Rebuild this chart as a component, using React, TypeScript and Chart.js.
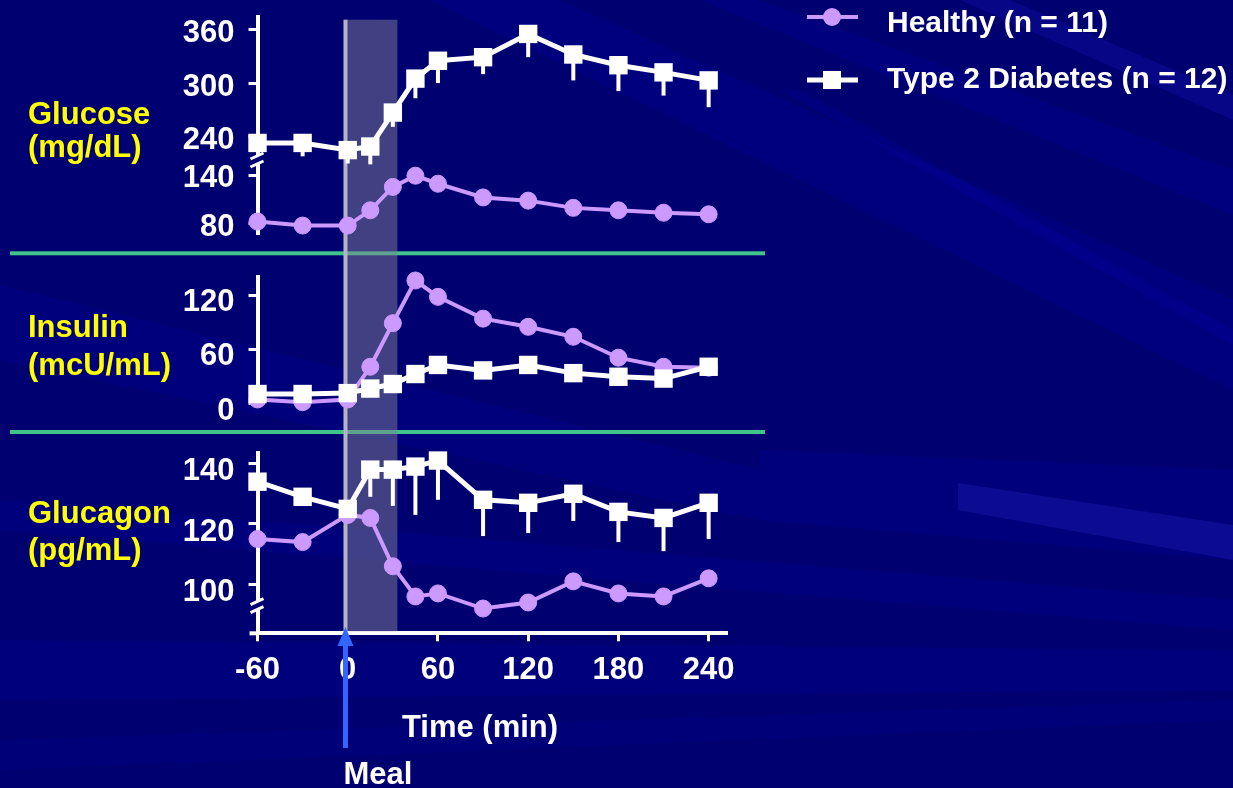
import React, { useEffect, useRef } from 'react';
import { Chart, registerables } from 'chart.js';

Chart.register(...registerables);

// ---------- data ----------
const timePoints = [-60, -30, 0, 15, 30, 45, 60, 90, 120, 150, 180, 210, 240];

const glucoseHealthy = [83, 78, 78, 97, 126, 140, 130, 113, 109, 100, 97, 94, 92];
const glucoseDiabetes = [233, 233, 225, 229, 267, 305, 325, 329, 355, 332, 320, 312, 303];
const glucoseDiabetesErr = [5, 15, 15, 20, 16, 22, 25, 19, 26, 29, 29, 26, 30];

const insulinHealthy = [5, 2, 5, 41, 89, 136, 118, 94, 85, 74, 51, 41, 40];
const insulinDiabetes = [11, 11, 12, 17, 22, 33, 43, 37, 43, 34, 30, 28, 41];

const glucagonHealthy = [115, 114, 123, 122, 106, 96, 97, 92, 94, 101, 97, 96, 102];
const glucagonDiabetes = [134, 129, 125, 138, 138, 139, 141, 128, 127, 130, 124, 122, 127];
const glucagonDiabetesErr = [0, 0, 0, 9, 12, 16, 13, 12, 10, 9, 10, 11, 12];

const xTicks = [-60, 0, 60, 120, 180, 240];
const glucoseHighTicks = [240, 300, 360];
const glucoseLowTicks = [80, 140];
const insulinTicks = [0, 60, 120];
const glucagonTicks = [100, 120, 140];

const seriesNames = ['Healthy (n = 11)', 'Type 2 Diabetes (n = 12)'];
const panelTitles = [
  ['Glucose', '(mg/dL)'],
  ['Insulin', '(mcU/mL)'],
  ['Glucagon', '(pg/mL)'],
];
const xTitle = 'Time (min)';
const mealLabel = 'Meal';
const mealTime = -1.5;
const mealShade = [-1, 33];
const glucagonBreakValue = 93;

// ---------- style ----------
const FONT = "'Liberation Sans', Arial, Helvetica, sans-serif";
const BG = '#000070';
const PURPLE = '#cc99ff';
const WHITE = '#ffffff';
const YELLOW = '#ffff00';
const GREEN = '#40c48a';

const streaks: { pts: number[][]; color: string }[] = [
  { pts: [[430, 0], [560, 0], [1233, 300], [1233, 390]], color: 'rgba(0,0,160,0.3)' },
  { pts: [[700, 0], [760, 0], [1233, 170], [1233, 215]], color: 'rgba(0,0,160,0.3)' },
  { pts: [[960, 0], [1010, 0], [1233, 95], [1233, 120]], color: 'rgba(20,20,190,0.3)' },
  { pts: [[780, 90], [800, 90], [1233, 330], [1233, 345]], color: 'rgba(0,0,160,0.3)' },
  { pts: [[0, 285], [0, 360], [760, 520], [760, 470]], color: 'rgba(0,0,160,0.25)' },
  { pts: [[760, 450], [1233, 470], [1233, 560], [760, 520]], color: 'rgba(0,0,160,0.25)' },
  { pts: [[958, 483], [1233, 525], [1233, 560], [958, 510]], color: 'rgba(40,40,200,0.3)' },
  { pts: [[0, 500], [1233, 600], [1233, 630], [0, 530]], color: 'rgba(0,0,160,0.25)' },
  { pts: [[0, 640], [1233, 650], [1233, 690], [0, 700]], color: 'rgba(0,0,160,0.25)' },
  { pts: [[0, 740], [1233, 700], [1233, 720], [0, 770]], color: 'rgba(0,0,160,0.2)' },
];

const toPts = (vals: number[]) => timePoints.map((t, i) => ({ x: t, y: vals[i] }));

function setTicks(list: number[]) {
  return (s: any) => {
    s.ticks = list.map((v) => ({ value: v }));
  };
}

function noPad(s: any) {
  s.paddingTop = 0;
  s.paddingBottom = 0;
  s.paddingLeft = 0;
  s.paddingRight = 0;
}

function yAxis(opts: any) {
  return {
    type: 'linear',
    position: 'left',
    stack: 'panels',
    afterFit: (s: any) => {
      s.width = 257.5;
      noPad(s);
    },
    ...opts,
  };
}

function visibleY(ticks: number[], min: number, max: number, weight: number, stackWeight: number, labelOffset: number) {
  return yAxis({
    min,
    max,
    weight,
    stackWeight,
    afterBuildTicks: setTicks(ticks),
    ticks: {
      color: WHITE,
      font: { family: FONT, size: 31, weight: 'bold' },
      padding: 14,
      labelOffset,
      autoSkip: false,
    },
    grid: { drawOnChartArea: false, color: WHITE, lineWidth: 3, tickLength: 9 },
    border: { display: true, color: WHITE, width: 4 },
  });
}

function gapY(weight: number, stackWeight: number) {
  return yAxis({
    min: 0,
    max: 1,
    weight,
    stackWeight,
    ticks: { display: false },
    grid: { display: false },
    border: { display: false },
  });
}

const errorSpecs = [
  { axis: 'yGlucoseHigh', values: glucoseDiabetes, errs: glucoseDiabetesErr },
  { axis: 'yGlucagon', values: glucagonDiabetes, errs: glucagonDiabetesErr },
];

const decorPlugin = {
  id: 'decor',
  beforeDraw(chart: any) {
    const { ctx, width, height } = chart;
    ctx.save();
    ctx.fillStyle = BG;
    ctx.fillRect(0, 0, width, height);
    for (const s of streaks) {
      ctx.beginPath();
      s.pts.forEach(([x, y], i) => (i ? ctx.lineTo(x, y) : ctx.moveTo(x, y)));
      ctx.closePath();
      ctx.fillStyle = s.color;
      ctx.fill();
    }
    ctx.restore();
  },
  beforeDatasetsDraw(chart: any) {
    const { ctx, chartArea, scales } = chart;
    const xs = scales.x;
    ctx.save();
    // separators
    ctx.fillStyle = GREEN;
    const g1 = scales.yGap1;
    const g2 = scales.yGap2;
    ctx.fillRect(10, g1.top + 18, 755, 4);
    ctx.fillRect(10, g2.top + 26, 755, 4);
    // meal shading
    const x0 = xs.getPixelForValue(mealShade[0]);
    const x1 = xs.getPixelForValue(mealShade[1]);
    ctx.fillStyle = 'rgba(128,128,150,0.5)';
    ctx.fillRect(x0, chartArea.top + 3, x1 - x0, chartArea.bottom - chartArea.top - 5);
    const xm = xs.getPixelForValue(mealTime);
    ctx.fillStyle = '#b4b4c4';
    ctx.fillRect(xm - 2, chartArea.top + 3, 4, chartArea.bottom - chartArea.top - 5);
    ctx.restore();
  },
  afterDatasetsDraw(chart: any) {
    const { ctx, scales } = chart;
    ctx.save();
    ctx.strokeStyle = WHITE;
    ctx.lineWidth = 4;
    for (const spec of errorSpecs) {
      const ys = scales[spec.axis];
      spec.values.forEach((v, i) => {
        if (!spec.errs[i]) return;
        const px = scales.x.getPixelForValue(timePoints[i]);
        ctx.beginPath();
        ctx.moveTo(px, ys.getPixelForValue(v));
        ctx.lineTo(px, ys.getPixelForValue(v - spec.errs[i]));
        ctx.stroke();
      });
    }
    ctx.restore();
  },
  afterDraw(chart: any) {
    const { ctx, scales, chartArea } = chart;
    const xs = scales.x;
    const axisX = chartArea.left;
    ctx.save();
    // axis breaks
    const drawBreak = (y: number) => {
      ctx.fillStyle = BG;
      ctx.fillRect(axisX - 4, y - 4, 8, 8);
      ctx.strokeStyle = WHITE;
      ctx.lineWidth = 3;
      ctx.beginPath();
      ctx.moveTo(axisX - 7, y - 1);
      ctx.lineTo(axisX + 6, y - 7);
      ctx.moveTo(axisX - 7, y + 7);
      ctx.lineTo(axisX + 6, y + 1);
      ctx.stroke();
    };
    drawBreak(scales.yGlucoseHigh.bottom);
    drawBreak(scales.yGlucagon.getPixelForValue(glucagonBreakValue));
    // x-axis overhang left of y-axis
    ctx.strokeStyle = WHITE;
    ctx.lineWidth = 4;
    ctx.beginPath();
    ctx.moveTo(axisX - 8, chartArea.bottom);
    ctx.lineTo(axisX, chartArea.bottom);
    ctx.stroke();

    // panel titles
    ctx.fillStyle = YELLOW;
    ctx.font = `bold 31px ${FONT}`;
    ctx.textAlign = 'left';
    ctx.textBaseline = 'alphabetic';
    const titleBaselines = [
      [124, 157],
      [337, 375],
      [523, 560],
    ];
    panelTitles.forEach((lines, p) => {
      lines.forEach((t, j) => ctx.fillText(t, 28, titleBaselines[p][j]));
    });

    // x title
    ctx.fillStyle = WHITE;
    ctx.textAlign = 'center';
    ctx.fillText(xTitle, 480, 737);

    // meal arrow
    const xm = xs.getPixelForValue(mealTime);
    ctx.fillStyle = '#3366ff';
    ctx.fillRect(xm - 2.5, 642, 5, 106);
    ctx.beginPath();
    ctx.moveTo(xm, 627);
    ctx.lineTo(xm - 8, 646);
    ctx.lineTo(xm + 8, 646);
    ctx.closePath();
    ctx.fill();
    ctx.fillStyle = WHITE;
    ctx.textAlign = 'left';
    ctx.fillText(mealLabel, xm - 2, 784);

    // legend
    const lx0 = 807;
    const lx1 = 858;
    const mx = 832;
    ctx.font = `bold 30px ${FONT}`;
    // healthy
    ctx.strokeStyle = PURPLE;
    ctx.lineWidth = 4;
    ctx.beginPath();
    ctx.moveTo(lx0, 17);
    ctx.lineTo(lx1, 17);
    ctx.stroke();
    ctx.fillStyle = PURPLE;
    ctx.beginPath();
    ctx.arc(mx, 17, 9, 0, Math.PI * 2);
    ctx.fill();
    ctx.fillStyle = WHITE;
    ctx.fillText(seriesNames[0], 887, 32);
    // diabetes
    ctx.strokeStyle = WHITE;
    ctx.lineWidth = 5;
    ctx.beginPath();
    ctx.moveTo(lx0, 80);
    ctx.lineTo(lx1, 80);
    ctx.stroke();
    ctx.fillRect(mx - 9, 71, 18, 18);
    ctx.fillText(seriesNames[1], 887, 88);
    ctx.restore();
  },
};

function healthyDs(label: string, vals: number[], axis: string) {
  return {
    label,
    data: toPts(vals),
    yAxisID: axis,
    borderColor: PURPLE,
    backgroundColor: PURPLE,
    borderWidth: 4,
    pointRadius: 8.5,
    pointBorderWidth: 1,
    pointStyle: 'circle',
    pointBackgroundColor: PURPLE,
    pointBorderColor: PURPLE,
    showLine: true,
    clip: false,
    order: 2,
  };
}

function diabetesDs(label: string, vals: number[], axis: string) {
  return {
    label,
    data: toPts(vals),
    yAxisID: axis,
    borderColor: WHITE,
    backgroundColor: WHITE,
    borderWidth: 5,
    pointRadius: 13,
    pointBorderWidth: 0,
    pointStyle: 'rect',
    pointBackgroundColor: WHITE,
    pointBorderColor: WHITE,
    showLine: true,
    clip: false,
    order: 1,
  };
}

export default function App() {
  const canvasRef = useRef<HTMLCanvasElement | null>(null);

  useEffect(() => {
    const canvas = canvasRef.current;
    if (!canvas) return;
    const chart = new Chart(canvas, {
      type: 'line',
      data: {
        datasets: [
          healthyDs(seriesNames[0], glucoseHealthy, 'yGlucoseLow'),
          diabetesDs(seriesNames[1], glucoseDiabetes, 'yGlucoseHigh'),
          healthyDs(seriesNames[0], insulinHealthy, 'yInsulin'),
          diabetesDs(seriesNames[1], insulinDiabetes, 'yInsulin'),
          healthyDs(seriesNames[0], glucagonHealthy, 'yGlucagon'),
          diabetesDs(seriesNames[1], glucagonDiabetes, 'yGlucagon'),
        ] as any,
      },
      options: {
        responsive: false,
        maintainAspectRatio: false,
        animation: false,
        devicePixelRatio: 1,
        layout: { padding: { left: 0, top: 16.7, right: 506.3, bottom: 0 } },
        plugins: {
          legend: { display: false },
          tooltip: { enabled: false },
          title: { display: false },
        },
        elements: { line: { tension: 0 } },
        scales: {
          x: {
            type: 'linear',
            position: 'bottom',
            min: -60,
            max: 252,
            afterBuildTicks: setTicks(xTicks),
            afterFit: (s: any) => {
              s.height = 788 - 633.3;
              noPad(s);
            },
            ticks: {
              color: WHITE,
              font: { family: FONT, size: 31, weight: 'bold' },
              padding: 11,
              maxRotation: 0,
              autoSkip: false,
            },
            grid: { drawOnChartArea: false, color: WHITE, lineWidth: 3, tickLength: 8 },
            border: { display: true, color: WHITE, width: 4 },
          },
          yGlucagon: visibleY(glucagonTicks, 83.8, 143.4, 1, 180, 8),
          yGap2: gapY(2, 49.3),
          yInsulin: visibleY(insulinTicks, 0, 140.2, 3, 127.3, 7),
          yGap1: gapY(4, 43.4),
          yGlucoseLow: visibleY(glucoseLowTicks, 68.4, 159.5, 5, 73.3, 3),
          yGlucoseHigh: visibleY(glucoseHighTicks, 213.9, 374.3, 6, 143.3, 4),
        } as any,
      },
      plugins: [decorPlugin],
    });
    return () => chart.destroy();
  }, []);

  return (
    <div style={{ position: 'absolute', left: 0, top: 0, width: 1233, height: 788, background: BG }}>
      <canvas ref={canvasRef} width={1233} height={788} style={{ width: 1233, height: 788, display: 'block' }} />
    </div>
  );
}
